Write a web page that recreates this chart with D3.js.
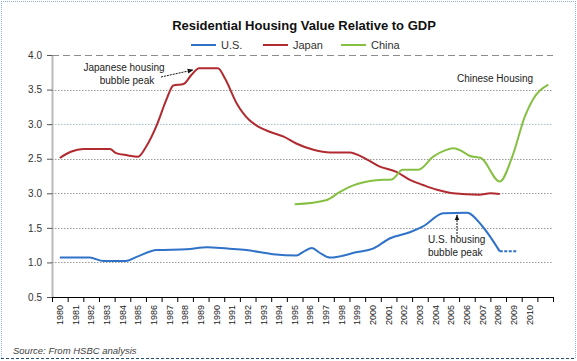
<!DOCTYPE html>
<html lang="en">
<head>
<meta charset="UTF-8">
<title>Residential Housing Value Relative to GDP</title>
<script src="https://cdn.jsdelivr.net/npm/d3@7"></script>
<style>
  body { margin: 0; background: #fff; }
  svg text { font-family: "Liberation Sans", Arial, sans-serif; }
</style>
</head>
<body>
<div id="my_dataviz"></div>
<script>
// data (years are positions, 1980 = middle of the 1980 column)
var categories = ['1980','1981','1982','1983','1984','1985','1986','1987','1988','1989',
  '1990','1991','1992','1993','1994','1995','1996','1997','1998','1999',
  '2000','2001','2002','2003','2004','2005','2006','2007','2008','2009','2010','2011'];
var xLabels = ['1980','1981','1982','1983','1984','1985','1986','1987','1988','1989',
  '1990','1991','1992','1993','1994','1995','1996','1997','1998','1999',
  '2000','2001','2002','2003','2004','2005','2006','2007','2008','2009','2010',''];
var yTicks = [0.5, 1.0, 1.5, 2.0, 2.5, 3.0, 3.5, 4.0];
var yLabels = ['0.5', '1.0', '1.5', '3.0', '2.5', '3.0', '3.5', '4.0'];

var usYears = [1980, 1981.9, 1982.8, 1984.2, 1984.9, 1986.2, 1988.1, 1989.4, 1990.7, 1991.9,
  1993.6, 1995.1, 1995.6, 1996.1, 1996.6, 1997.25, 1999.0, 2000.0, 2001.1, 2002.4,
  2003.2, 2004.5, 2006.0, 2007.0, 2008.1, 2009.2];
var usValues = [1.07, 1.07, 1.02, 1.02, 1.08, 1.18, 1.19, 1.22, 1.20, 1.18,
  1.12, 1.10, 1.16, 1.21, 1.14, 1.07, 1.15, 1.20, 1.35, 1.44,
  1.52, 1.71, 1.72, 1.52, 1.16, 1.16];

var japanYears = [1980, 1980.7, 1981.5, 1983.2, 1983.6, 1984.3, 1985.0, 1985.5, 1986.2, 1986.8,
  1987.25, 1987.9, 1988.4, 1988.9, 1990.1, 1990.55, 1991.3, 1992.1, 1992.5, 1993.4,
  1994.3, 1995.1, 1996.2, 1997.25, 1998.5, 1999.6, 2000.4, 2001.5, 2002.4, 2003.2,
  2004.1, 2005.1, 2006.8, 2007.5, 2008.1];
var japanValues = [2.51, 2.60, 2.64, 2.64, 2.58, 2.55, 2.53, 2.67, 2.99, 3.35,
  3.56, 3.58, 3.71, 3.81, 3.81, 3.66, 3.30, 3.06, 2.99, 2.89,
  2.82, 2.72, 2.63, 2.59, 2.59, 2.49, 2.39, 2.31, 2.19, 2.12,
  2.05, 2.00, 1.98, 2.00, 1.99];

var chinaYears = [1995, 1997, 1997.9, 1998.7, 2000.2, 2001.2, 2001.9, 2002.9, 2003.85, 2004.6,
  2005.1, 2005.5, 2006.2, 2006.9, 2008.1, 2008.9, 2009.7, 2010.2, 2011.2];
var chinaValues = [1.84, 1.90, 2.02, 2.11, 2.19, 2.20, 2.34, 2.34, 2.53, 2.62,
  2.65, 2.63, 2.54, 2.51, 2.17, 2.53, 3.11, 3.35, 3.57];

var seriesNames = ['U.S.', 'Japan', 'China'];
var seriesColors = ['#2f72c8', '#b12a30', '#86c043'];

var W = 577, H = 361;
var plotLeft = 52, plotRight = 553, plotTop = 55, plotBottom = 297;

var svg = d3.select("#my_dataviz").append("svg")
  .attr("width", W).attr("height", H);

// outer frame
svg.append("line").attr("x1", 1.5).attr("x2", 1.5).attr("y1", 1).attr("y2", 358)
  .attr("stroke", "#8db3e2").attr("stroke-dasharray", "1,1");
svg.append("line").attr("x1", 1).attr("x2", 575).attr("y1", 1.5).attr("y2", 1.5)
  .attr("stroke", "#8db3e2").attr("stroke-dasharray", "1,1");
svg.append("line").attr("x1", 575.5).attr("x2", 575.5).attr("y1", 1).attr("y2", 358)
  .attr("stroke", "#8db3e2").attr("stroke-dasharray", "1,1");
svg.append("line").attr("x1", 1).attr("x2", 576).attr("y1", 358.5).attr("y2", 358.5)
  .attr("stroke", "#1f4e79").attr("stroke-dasharray", "3,2");

var xBand = d3.scaleBand().domain(categories).range([plotLeft, plotRight]).padding(0);
var xLin = d3.scaleLinear().domain([0, categories.length]).range([plotLeft, plotRight]);
var y = d3.scaleLinear().domain([0.5, 4.0]).range([plotBottom, plotTop]);
function xPos(yr) { return xLin(yr - 1980 + 0.5); }

// gridlines
svg.append("g").selectAll("line")
  .data(yTicks.filter(function (d) { return d > 0.5; }))
  .enter().append("line")
  .attr("x1", plotLeft).attr("x2", plotRight)
  .attr("y1", function (d) { return Math.round(y(d)) + 0.5; })
  .attr("y2", function (d) { return Math.round(y(d)) + 0.5; })
  .attr("stroke", function (d) { return d == 4.0 ? "#8c8c8c" : (d == 3.0 ? "#9cc6cc" : "#9a9a9a"); })
  .attr("stroke-dasharray", function (d) { return d == 4.0 ? "7,4" : "1.5,1.5"; })
  .attr("stroke-width", 1);

// y axis
var yAxis = svg.append("g")
  .attr("transform", "translate(" + plotLeft + ",0)")
  .call(d3.axisLeft(y).tickValues(yTicks)
    .tickFormat(function (d, i) { return yLabels[i]; })
    .tickSize(5).tickPadding(5).tickSizeOuter(0));
yAxis.select(".domain").attr("stroke", "#777").attr("stroke-width", 2).attr("stroke-dasharray", "1,1");
yAxis.selectAll(".tick line").attr("stroke", "#555");
yAxis.selectAll("text").style("font-size", "10px").attr("fill", "#333");

// x axis: boundary ticks
var xAxis = svg.append("g")
  .attr("transform", "translate(0," + plotBottom + ")")
  .call(d3.axisBottom(xLin).tickValues(d3.range(categories.length + 1))
    .tickFormat("").tickSize(5).tickSizeOuter(0));
xAxis.select(".domain").attr("stroke", "#000").attr("stroke-width", 1.2);
xAxis.selectAll(".tick line").attr("stroke", "#000");

// x axis labels
var xLab = svg.append("g")
  .attr("transform", "translate(0," + plotBottom + ")")
  .call(d3.axisBottom(xBand).tickSize(0)
    .tickFormat(function (d, i) { return xLabels[i]; }));
xLab.select(".domain").remove();
xLab.selectAll("text")
  .style("font-size", "9px").attr("fill", "#222")
  .attr("y", 0).attr("dy", "0.35em")
  .attr("transform", "translate(0,8) rotate(-90)")
  .style("text-anchor", "end");

var line = d3.line()
  .x(function (d) { return xPos(d[0]); })
  .y(function (d) { return y(d[1]); })
  .curve(d3.curveMonotoneX);

var usPts = d3.zip(usYears, usValues);
var japanPts = d3.zip(japanYears, japanValues);
var chinaPts = d3.zip(chinaYears, chinaValues);

svg.append("path").datum(japanPts).attr("d", line)
  .attr("fill", "none").attr("stroke", seriesColors[1]).attr("stroke-width", 2);
svg.append("path").datum(chinaPts).attr("d", line)
  .attr("fill", "none").attr("stroke", seriesColors[2]).attr("stroke-width", 2);
svg.append("path").datum(usPts.slice(0, usPts.length - 1)).attr("d", line)
  .attr("fill", "none").attr("stroke", seriesColors[0]).attr("stroke-width", 2);
svg.append("path").datum(usPts.slice(usPts.length - 2)).attr("d", line)
  .attr("fill", "none").attr("stroke", seriesColors[0]).attr("stroke-width", 2)
  .attr("stroke-dasharray", "3,1.5");

// title
svg.append("text")
  .attr("x", 304).attr("y", 30)
  .attr("text-anchor", "middle")
  .style("font-size", "13px").style("font-weight", "bold")
  .attr("fill", "#111")
  .text("Residential Housing Value Relative to GDP");

// legend
var legendX = [191, 263, 341];
var leg = svg.append("g").selectAll("g").data(seriesNames).enter().append("g")
  .attr("transform", function (d, i) { return "translate(" + legendX[i] + ",45)"; });
leg.append("line").attr("x1", 0).attr("x2", 25).attr("y1", 0).attr("y2", 0)
  .attr("stroke", function (d, i) { return seriesColors[i]; }).attr("stroke-width", 2);
leg.append("text").attr("x", 30).attr("y", 4)
  .style("font-size", "11px").attr("fill", "#333")
  .text(function (d) { return d; });

// annotations
svg.append("defs").append("marker")
  .attr("id", "arr").attr("viewBox", "0 0 10 10").attr("refX", 9).attr("refY", 5)
  .attr("markerWidth", 6).attr("markerHeight", 6).attr("orient", "auto")
  .append("path").attr("d", "M0,1 L10,5 L0,9 z").attr("fill", "#111");

svg.append("text").attr("x", 124).attr("y", 71).attr("text-anchor", "middle")
  .style("font-size", "10px").attr("fill", "#222").text("Japanese housing");
svg.append("text").attr("x", 127).attr("y", 84).attr("text-anchor", "middle")
  .style("font-size", "10px").attr("fill", "#222").text("bubble peak");
svg.append("line").attr("x1", 161).attr("y1", 77).attr("x2", 193).attr("y2", 70)
  .attr("stroke", "#111").attr("stroke-width", 1).attr("stroke-dasharray", "2,1")
  .attr("marker-end", "url(#arr)");

svg.append("text").attr("x", 495).attr("y", 82).attr("text-anchor", "middle")
  .style("font-size", "10px").attr("fill", "#222").text("Chinese Housing");

svg.append("text").attr("x", 428).attr("y", 243)
  .style("font-size", "10px").attr("fill", "#222").text("U.S. housing");
svg.append("text").attr("x", 428).attr("y", 256)
  .style("font-size", "10px").attr("fill", "#222").text("bubble peak");
svg.append("line").attr("x1", 457).attr("y1", 237).attr("x2", 457).attr("y2", 215)
  .attr("stroke", "#111").attr("stroke-width", 1).attr("stroke-dasharray", "2,1")
  .attr("marker-end", "url(#arr)");

// source
svg.append("text").attr("x", 13).attr("y", 354)
  .style("font-size", "9.5px").style("font-style", "italic").attr("fill", "#444")
  .text("Source: From HSBC analysis");
</script>
</body>
</html>
